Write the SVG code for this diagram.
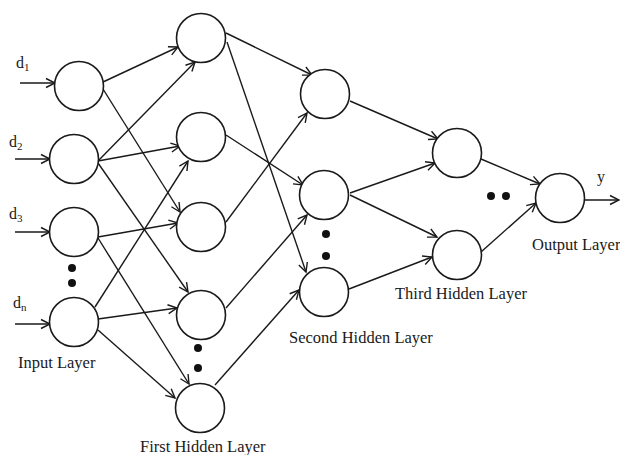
<svg xmlns="http://www.w3.org/2000/svg" width="620" height="455" viewBox="0 0 620 455">
<style>
.node{fill:#fff;stroke:#1a1a1a;stroke-width:1.6}
.edge{stroke:#1a1a1a;stroke-width:1.4;fill:none;marker-end:url(#arr)}
.dot{fill:#111}
.lbl{font-family:"Liberation Serif","Times New Roman",serif;font-size:16.5px;fill:#1a1a1a}
.var{font-family:"Liberation Serif","Times New Roman",serif;font-size:16px;fill:#1a1a1a}
.sub{font-size:11px}
</style>
<defs>
<marker id="arr" markerUnits="userSpaceOnUse" markerWidth="14" markerHeight="12" refX="0" refY="0" viewBox="-12 -6 14 12" orient="auto">
<path d="M-9,-4.5 L0,0 L-9,4.5" fill="none" stroke="#1a1a1a" stroke-width="1.4"/>
</marker>
</defs>
<rect width="620" height="455" fill="#fff"/>
<g id="connectors">
<line class="edge" x1="20" y1="83" x2="55" y2="83"/>
<line class="edge" x1="15" y1="159" x2="50" y2="159"/>
<line class="edge" x1="15" y1="232" x2="50" y2="232"/>
<line class="edge" x1="15" y1="324" x2="50" y2="324"/>
<line class="edge" x1="103" y1="82" x2="178" y2="47"/>
<line class="edge" x1="103" y1="89" x2="180" y2="212"/>
<line class="edge" x1="98" y1="161" x2="195" y2="62"/>
<line class="edge" x1="98" y1="161" x2="180" y2="146"/>
<line class="edge" x1="98" y1="163" x2="188" y2="292"/>
<line class="edge" x1="98" y1="237" x2="178" y2="223"/>
<line class="edge" x1="98" y1="238" x2="189" y2="384"/>
<line class="edge" x1="95" y1="307" x2="188" y2="161"/>
<line class="edge" x1="98" y1="319" x2="177" y2="308"/>
<line class="edge" x1="98" y1="330" x2="175" y2="398"/>
<line class="edge" x1="226" y1="33" x2="312" y2="75"/>
<line class="edge" x1="227" y1="42" x2="306" y2="272"/>
<line class="edge" x1="226" y1="135" x2="303" y2="185"/>
<line class="edge" x1="226" y1="222" x2="307" y2="113"/>
<line class="edge" x1="226" y1="308" x2="307" y2="215"/>
<line class="edge" x1="215" y1="385" x2="299" y2="290"/>
<line class="edge" x1="350" y1="101" x2="438" y2="139"/>
<line class="edge" x1="350" y1="193" x2="435" y2="163"/>
<line class="edge" x1="350" y1="195" x2="437" y2="237"/>
<line class="edge" x1="349" y1="289" x2="432" y2="257"/>
<line class="edge" x1="481" y1="159" x2="540" y2="184"/>
<line class="edge" x1="481" y1="252" x2="536" y2="203"/>
<line class="edge" x1="584" y1="200" x2="619" y2="200"/>
</g>
<g id="input-layer">
<circle id="in1" class="node" cx="79" cy="86" r="24.5"/>
<circle id="in2" class="node" cx="74" cy="159" r="24.5"/>
<circle id="in3" class="node" cx="74" cy="232" r="24.5"/>
<circle id="inn" class="node" cx="74" cy="322" r="24.5"/>
<circle class="dot" cx="72" cy="268" r="4"/>
<circle class="dot" cx="72" cy="283" r="4"/>
<text class="var" x="16" y="68">d<tspan class="sub" dy="3">1</tspan></text>
<text class="var" x="9" y="147">d<tspan class="sub" dy="3">2</tspan></text>
<text class="var" x="9" y="219">d<tspan class="sub" dy="3">3</tspan></text>
<text class="var" x="13" y="308">d<tspan class="sub" dy="3">n</tspan></text>
<text class="lbl" x="18" y="368">Input Layer</text>
</g>
<g id="hidden-layer-1">
<circle id="h11" class="node" cx="201" cy="38" r="24.5"/>
<circle id="h12" class="node" cx="201" cy="137" r="24.5"/>
<circle id="h13" class="node" cx="201" cy="227" r="24.5"/>
<circle id="h14" class="node" cx="201" cy="315" r="24.5"/>
<circle id="h15" class="node" cx="200" cy="408" r="24.5"/>
<circle class="dot" cx="198" cy="348" r="4"/>
<circle class="dot" cx="198" cy="368" r="4"/>
<text class="lbl" x="140" y="452">First Hidden Layer</text>
</g>
<g id="hidden-layer-2">
<circle id="h21" class="node" cx="325" cy="94" r="24.5"/>
<circle id="h22" class="node" cx="324" cy="195" r="24.5"/>
<circle id="h23" class="node" cx="324" cy="292" r="24.5"/>
<circle class="dot" cx="326" cy="234" r="4"/>
<circle class="dot" cx="326" cy="256" r="4"/>
<text class="lbl" x="289" y="343">Second Hidden Layer</text>
</g>
<g id="hidden-layer-3">
<circle id="h31" class="node" cx="457" cy="153" r="24.5"/>
<circle id="h32" class="node" cx="457" cy="255" r="24.5"/>
<text class="lbl" x="395" y="299">Third Hidden Layer</text>
</g>
<g id="output-layer">
<circle id="out" class="node" cx="560" cy="198" r="24.5"/>
<circle class="dot" cx="491" cy="196" r="4"/>
<circle class="dot" cx="506" cy="196" r="4"/>
<text class="var" x="597" y="182">y</text>
<text class="lbl" x="532" y="250">Output Layer</text>
</g>
</svg>
